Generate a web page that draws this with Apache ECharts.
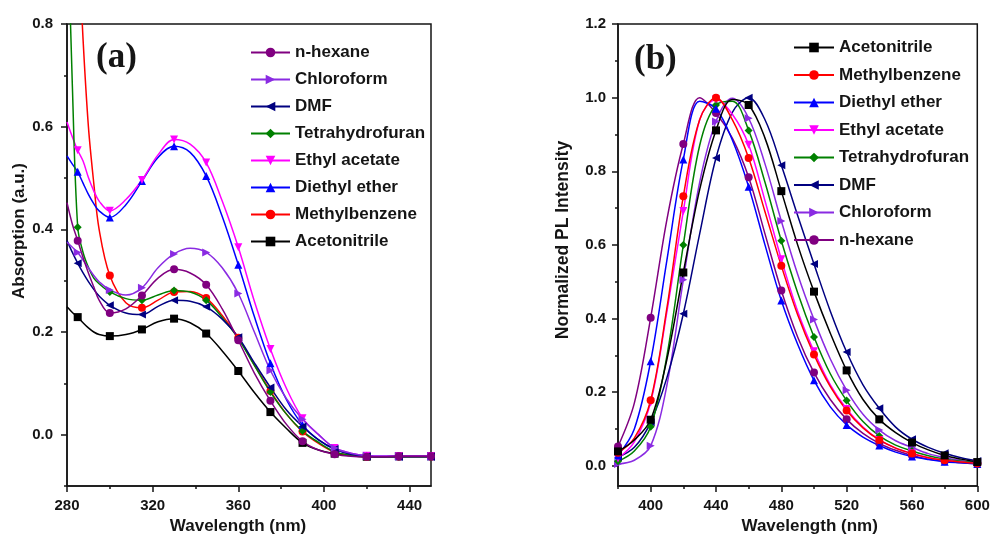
<!DOCTYPE html>
<html>
<head>
<meta charset="utf-8">
<script src="https://cdn.jsdelivr.net/npm/echarts@6/dist/echarts.min.js"></script>
<style>
html,body{margin:0;padding:0;background:#fff}
#chart{width:993px;height:540px}
</style>
</head>
<body>
<div id="chart"></div>
<script>
// ---------- (a) absorption spectra ----------
const absWavelength = [280,282.5,285,287.5,290,292.5,295,300,307.5,315,322.5,330,337.5,345,352.5,360,367.5,375,382.5,390,397.5,405,412.5,420,427.5,435,442.5,450];
const absMarkerAt = [285,300,315,330,345,360,375,390,405,420,435,450];
const absHexane        = [0.452,0.41,0.378,0.345,0.315,0.288,0.262,0.237,0.245,0.271,0.305,0.322,0.315,0.292,0.245,0.184,0.12,0.066,0.02,-0.013,-0.03,-0.038,-0.042,-0.043,-0.043,-0.042,-0.042,-0.042];
const absChloroform    = [0.375,0.365,0.355,0.34,0.325,0.31,0.298,0.282,0.272,0.286,0.325,0.352,0.363,0.355,0.325,0.275,0.2,0.125,0.07,0.03,0.0,-0.026,-0.036,-0.041,-0.042,-0.042,-0.042,-0.042];
const absDMF           = [0.378,0.355,0.334,0.315,0.298,0.283,0.27,0.252,0.237,0.234,0.25,0.262,0.26,0.249,0.225,0.19,0.14,0.092,0.048,0.016,-0.01,-0.028,-0.038,-0.042,-0.043,-0.043,-0.043,-0.043];
const absTHF           = [1.05,0.68,0.404,0.355,0.326,0.305,0.294,0.278,0.265,0.262,0.272,0.281,0.278,0.262,0.228,0.187,0.135,0.083,0.04,0.007,-0.015,-0.033,-0.04,-0.043,-0.043,-0.043,-0.043,-0.043];
const absEthylAcetate  = [0.609,0.58,0.554,0.533,0.501,0.475,0.455,0.436,0.458,0.496,0.545,0.575,0.566,0.53,0.455,0.365,0.26,0.167,0.09,0.032,0.0,-0.026,-0.036,-0.041,-0.042,-0.042,-0.042,-0.042];
const absDiethylEther  = [0.543,0.527,0.512,0.49,0.468,0.45,0.436,0.423,0.448,0.494,0.54,0.562,0.55,0.504,0.425,0.331,0.23,0.139,0.068,0.019,-0.01,-0.028,-0.037,-0.041,-0.042,-0.042,-0.042,-0.042];
const absMethylbenzene = [1.55,1.25,0.99,0.77,0.6,0.49,0.4,0.31,0.257,0.247,0.262,0.278,0.279,0.266,0.232,0.189,0.136,0.085,0.04,0.006,-0.017,-0.034,-0.04,-0.043,-0.043,-0.043,-0.043,-0.043];
const absAcetonitrile  = [0.249,0.238,0.229,0.218,0.208,0.2,0.195,0.192,0.195,0.205,0.22,0.226,0.218,0.197,0.163,0.124,0.082,0.044,0.012,-0.016,-0.03,-0.037,-0.041,-0.043,-0.043,-0.042,-0.042,-0.042];
const absXLabels = [280,320,360,400,440];
const absXMinor  = [300,340,380,420];
const absYLabels = [0,0.2,0.4,0.6,0.8];
const absYMinor  = [-0.1,0.1,0.3,0.5,0.7];

// ---------- (b) normalized photoluminescence ----------
const plWavelength = [380,390,400,410,420,430,440,450,460,470,480,490,500,510,520,530,540,550,560,570,580,590,600];
const plMarkerAt = [380,400,420,440,460,480,500,520,540,560,580,600];
const plAcetonitrile  = [0.039,0.07,0.125,0.29,0.525,0.75,0.911,0.995,0.98,0.89,0.746,0.6,0.473,0.36,0.259,0.18,0.126,0.09,0.063,0.043,0.028,0.018,0.01];
const plMethylbenzene = [0.035,0.075,0.178,0.43,0.732,0.94,1.0,0.94,0.836,0.69,0.543,0.41,0.302,0.215,0.15,0.103,0.07,0.048,0.033,0.022,0.015,0.01,0.006];
const plDiethylEther  = [0.028,0.1,0.284,0.56,0.832,0.99,0.97,0.885,0.758,0.6,0.449,0.33,0.232,0.16,0.111,0.078,0.055,0.037,0.025,0.017,0.011,0.008,0.005];
const plEthylAcetate  = [0.02,0.065,0.172,0.42,0.692,0.94,0.995,0.955,0.872,0.72,0.561,0.42,0.311,0.22,0.154,0.105,0.07,0.048,0.034,0.022,0.015,0.01,0.006];
const plTHF           = [0.012,0.04,0.106,0.3,0.6,0.87,0.98,0.99,0.911,0.77,0.611,0.47,0.35,0.25,0.177,0.12,0.081,0.056,0.04,0.027,0.018,0.012,0.008];
const plDMF           = [0.023,0.05,0.118,0.24,0.413,0.63,0.836,0.96,1.0,0.94,0.816,0.68,0.548,0.42,0.309,0.22,0.156,0.105,0.072,0.05,0.034,0.022,0.013];
const plChloroform    = [0.005,0.015,0.054,0.22,0.505,0.77,0.935,0.998,0.944,0.82,0.665,0.52,0.397,0.29,0.205,0.14,0.097,0.068,0.05,0.033,0.022,0.014,0.009];
const plHexane        = [0.052,0.17,0.402,0.67,0.874,1.0,0.958,0.89,0.784,0.63,0.476,0.35,0.253,0.18,0.126,0.088,0.061,0.042,0.028,0.018,0.012,0.008,0.006];
const plXLabels = [400,440,480,520,560,600];
const plXMinor  = [380,420,460,500,540,580];
const plYLabels = [0,0.2,0.4,0.6,0.8,1.0,1.2];
const plYMinor  = [0.1,0.3,0.5,0.7,0.9,1.1];

// legend orders
const absLegendOrder = ['n-hexane','Chloroform','DMF','Tetrahydrofuran','Ethyl acetate','Diethyl ether','Methylbenzene','Acetonitrile'];
const plLegendOrder  = ['Acetonitrile','Methylbenzene','Diethyl ether','Ethyl acetate','Tetrahydrofuran','DMF','Chloroform','n-hexane'];

// solvent styles
const solventStyle = {
  'n-hexane':        {color:'#800080', symbol:'circle'},
  'Chloroform':      {color:'#8A2BE2', symbol:'path://M0,0 L10,5 L0,10 Z'},
  'DMF':             {color:'#000080', symbol:'path://M10,0 L0,5 L10,10 Z'},
  'Tetrahydrofuran': {color:'#008000', symbol:'diamond'},
  'Ethyl acetate':   {color:'#FF00FF', symbol:'path://M0,0 L10,0 L5,10 Z'},
  'Diethyl ether':   {color:'#0000FF', symbol:'triangle'},
  'Methylbenzene':   {color:'#FF0000', symbol:'circle'},
  'Acetonitrile':    {color:'#000000', symbol:'rect'}
};

const absSeriesValues = {
  'n-hexane': absHexane, 'Chloroform': absChloroform, 'DMF': absDMF, 'Tetrahydrofuran': absTHF,
  'Ethyl acetate': absEthylAcetate, 'Diethyl ether': absDiethylEther, 'Methylbenzene': absMethylbenzene, 'Acetonitrile': absAcetonitrile
};
const plSeriesValues = {
  'Acetonitrile': plAcetonitrile, 'Methylbenzene': plMethylbenzene, 'Diethyl ether': plDiethylEther, 'Ethyl acetate': plEthylAcetate,
  'Tetrahydrofuran': plTHF, 'DMF': plDMF, 'Chloroform': plChloroform, 'n-hexane': plHexane
};

const FONT = '"Liberation Sans", Arial, sans-serif';
const INK = '#151515';

function buildPoints(xs, ys, markers) {
  return xs.map((x, i) => markers.includes(x)
    ? {value: [x, ys[i]]}
    : {value: [x, ys[i]], symbol: 'none'});
}

function makeSeries(name, xs, ys, markers, axisIdx) {
  const st = solventStyle[name];
  return {
    name: name,
    type: 'line',
    xAxisIndex: axisIdx,
    yAxisIndex: axisIdx,
    data: buildPoints(xs, ys, markers),
    smooth: 0.35,
    symbol: st.symbol,
    symbolSize: 8,
    showSymbol: true,
    showAllSymbol: true,
    clip: true,
    lineStyle: {color: st.color, width: 1.5},
    itemStyle: {color: st.color, borderWidth: 0},
    emphasis: {disabled: true}
  };
}

const series = [];
[...absLegendOrder].reverse().forEach(n => series.push(makeSeries(n, absWavelength, absSeriesValues[n], absMarkerAt, 0)));
[...plLegendOrder].reverse().forEach(n => series.push(makeSeries(n, plWavelength, plSeriesValues[n], plMarkerAt, 2)));

const labelStyle = {color: INK, fontFamily: FONT, fontWeight: 'bold', fontSize: 15};
const nameStyle = {color: INK, fontFamily: FONT, fontWeight: 'bold', fontSize: 17};

function majorAxis(gridIndex, position, min, max, labels, fmt, margin, extra) {
  return Object.assign({
    type: 'value', gridIndex, position, min, max,
    axisLine: {show: true, onZero: false, lineStyle: {color: INK, width: 1.5}},
    axisTick: {show: true, length: 6, customValues: labels, lineStyle: {color: INK, width: 1.5}},
    axisLabel: Object.assign({customValues: labels, formatter: fmt, margin: margin}, labelStyle),
    splitLine: {show: false},
    nameTextStyle: nameStyle,
    nameLocation: 'middle'
  }, extra || {});
}
function minorAxis(gridIndex, position, min, max, ticks) {
  return {
    type: 'value', gridIndex, position, min, max,
    axisLine: {show: false, onZero: false},
    axisTick: {show: true, length: 3, customValues: ticks, lineStyle: {color: INK, width: 1.5}},
    axisLabel: {show: false},
    splitLine: {show: false}
  };
}

const xFmt = v => String(v);
const yFmt = v => v.toFixed(1);

const option = {
  backgroundColor: '#ffffff',
  animation: false,
  grid: [
    {left: 67, top: 24, width: 364, height: 464.7, show: true, borderColor: INK, borderWidth: 1.5, backgroundColor: 'transparent'},
    {left: 618, top: 24, width: 359.3, height: 463.7, show: true, borderColor: INK, borderWidth: 1.5, backgroundColor: 'transparent'}
  ],
  xAxis: [
    majorAxis(0, 'bottom', 280, 450, absXLabels, xFmt, 12, {name: 'Wavelength (nm)', nameGap: 32, nameTextStyle: Object.assign({}, nameStyle, {padding: [0, 22, 0, 0]})}),
    minorAxis(0, 'bottom', 280, 450, absXMinor),
    majorAxis(1, 'bottom', 380, 600, plXLabels, xFmt, 12, {name: 'Wavelength (nm)', nameGap: 32, nameTextStyle: Object.assign({}, nameStyle, {padding: [0, 0, 0, 24]})}),
    minorAxis(1, 'bottom', 380, 600, plXMinor)
  ],
  yAxis: [
    majorAxis(0, 'left', -0.1, 0.8, absYLabels, yFmt, 14, {name: 'Absorption (a.u.)', nameGap: 38, nameTextStyle: Object.assign({}, nameStyle, {padding: [0, 0, 0, 48]})}),
    minorAxis(0, 'left', -0.1, 0.8, absYMinor),
    majorAxis(1, 'left', -0.055, 1.2, plYLabels, yFmt, 12, {name: 'Normalized PL Intensity', nameGap: 46, nameTextStyle: Object.assign({}, nameStyle, {fontSize: 17.5, padding: [0, 0, 0, 30]})}),
    minorAxis(1, 'left', -0.055, 1.2, plYMinor)
  ],
  legend: [
    {
      data: absLegendOrder, orient: 'vertical', left: 250, top: 44,
      itemWidth: 39, itemHeight: 12, itemGap: 10, padding: 0,
      selectedMode: false,
      textStyle: {color: INK, fontFamily: FONT, fontWeight: 'bold', fontSize: 17}
    },
    {
      data: plLegendOrder, orient: 'vertical', left: 793, top: 39,
      itemWidth: 40, itemHeight: 12, itemGap: 10.5, padding: 0,
      selectedMode: false,
      textStyle: {color: INK, fontFamily: FONT, fontWeight: 'bold', fontSize: 17}
    }
  ],
  graphic: [
    {type: 'text', left: 96, top: 40, style: {text: '(a)', fill: INK, font: 'bold 35px "Liberation Serif", "Times New Roman", serif'}},
    {type: 'text', left: 634, top: 42, style: {text: '(b)', fill: INK, font: 'bold 35px "Liberation Serif", "Times New Roman", serif'}}
  ],
  series: series
};

const chart = echarts.init(document.getElementById('chart'), null, {renderer: 'canvas'});
chart.setOption(option);
</script>
</body>
</html>
